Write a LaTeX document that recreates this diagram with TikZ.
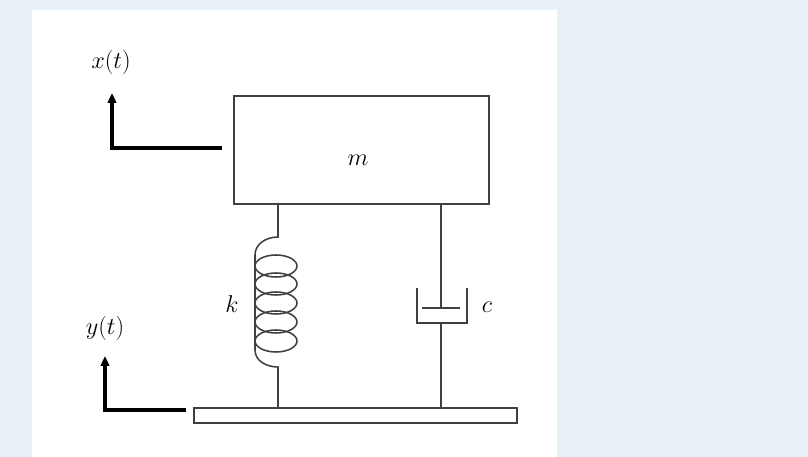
\documentclass[tikz,border=0pt]{standalone}
\usepackage{amsmath}
\usetikzlibrary{arrows.meta}
\definecolor{bgblue}{RGB}{230,240,246}

\begin{document}
\begin{tikzpicture}[x=0.025cm, y=-0.025cm, line width=1.1pt, draw=black!75,
		lbl/.style={inner sep=1pt, font=\fontsize{16}{18}\selectfont},
		motion/.style={line width=2.4pt, draw=black, -{Triangle[length=7pt, width=6pt]}}]
	% background and panel
	\fill[bgblue] (0,0) rectangle (808,457);
	\fill[white] (32,10) rectangle (557,457);
	\useasboundingbox (0,0) rectangle (808,457);

	% mass and ground
	\node[draw, minimum width=255*0.025cm, minimum height=108*0.025cm, inner sep=0pt, anchor=north west] (mass) at (233,95) {};
	\node[lbl] (mlabel) at (358,160) {$m$};
	\node[draw, minimum width=323*0.025cm, minimum height=15*0.025cm, inner sep=0pt, anchor=north west] (ground) at (193,407) {};

	% spring
	\coordinate (stop) at (278,203);
	\coordinate (sbot) at (278,407);
	\draw (stop) -- (278,237) to[out=180, in=90] (255,255) -- (255,350) to[out=270, in=180] (278,367) -- (sbot);
	\foreach \cy in {266,284,303,322,341}
		\draw (276,\cy) ellipse (21 and 11);
	\node[lbl] (k) at (232,304) {$k$};

	% damper
	\coordinate (dtop) at (441,203);
	\coordinate (dbot) at (441,407);
	\coordinate (piston) at (441,308);
	\coordinate (cyl) at (441,323);
	\draw (dtop) -- (piston);
	\draw (422,308) -- (460,308);
	\draw (417,288) -- (417,323) -- (467,323) -- (467,288);
	\draw (cyl) -- (dbot);
	\node[lbl] (c) at (487,307) {$c$};

	% motions
	\coordinate (xs) at (222,148);
	\coordinate (xc) at (112,148);
	\coordinate (xe) at (112,93);
	\draw[motion] (xs) -- (xc) -- (xe);
	\node[lbl] (xt) at (111,62) {$x(t)$};
	\coordinate (ys) at (186,410);
	\coordinate (yc) at (105,410);
	\coordinate (ye) at (105,356);
	\draw[motion] (ys) -- (yc) -- (ye);
	\node[lbl] (yt) at (105,328) {$y(t)$};
\end{tikzpicture}
\end{document}
